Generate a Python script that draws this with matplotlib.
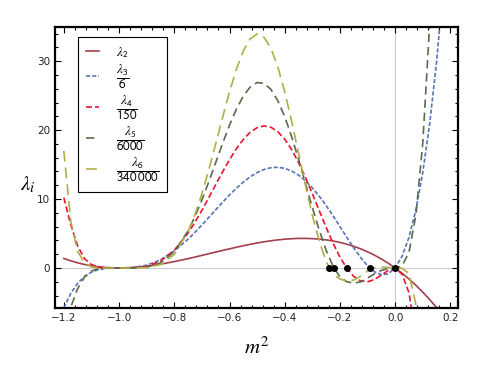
import matplotlib
matplotlib.use("Agg")
import matplotlib.pyplot as plt
from matplotlib.ticker import MultipleLocator

plt.rcParams['mathtext.fontset'] = 'stix'
plt.rcParams['font.family'] = ['DejaVu Sans']

# m^2 sample positions
m2 = [-1.2, -1.175, -1.15, -1.125, -1.1, -1.075, -1.05, -1.0, -0.95, -0.9, -0.85, -0.8, -0.75,
      -0.725, -0.7, -0.675, -0.65, -0.625, -0.6, -0.575, -0.55, -0.525, -0.5, -0.475, -0.45,
      -0.425, -0.4, -0.375, -0.35, -0.325, -0.3, -0.275, -0.25, -0.225, -0.2, -0.175, -0.15,
      -0.125, -0.1, -0.075, -0.05, -0.025, 0.0, 0.025, 0.05, 0.075, 0.1, 0.125, 0.15, 0.175, 0.2]

lam2 = [1.39, 1.04, 0.75, 0.51, 0.32, 0.18, 0.08, 0.0, 0.07, 0.26, 0.56, 0.93, 1.36,
        1.59, 1.83, 2.07, 2.31, 2.55, 2.78, 3.01, 3.23, 3.44, 3.63, 3.80, 3.95,
        4.08, 4.18, 4.25, 4.29, 4.29, 4.26, 4.19, 4.08, 3.92, 3.71, 3.45, 3.14,
        2.78, 2.35, 1.86, 1.31, 0.69, 0.0, -0.76, -1.60, -2.51, -3.51, -4.59, -5.75, -7.01, -8.35]

lam3_6 = [-5.78, -3.70, -2.23, -1.23, -0.60, -0.24, -0.07, 0.0, 0.06, 0.40, 1.18, 2.46, 4.19,
          5.18, 6.24, 7.34, 8.44, 9.54, 10.59, 11.58, 12.46, 13.23, 13.85, 14.29, 14.55,
          14.61, 14.45, 14.07, 13.47, 12.64, 11.62, 10.41, 9.05, 7.56, 6.01, 4.43, 2.90,
          1.50, 0.32, -0.55, -0.98, -0.84, 0.0, 1.71, 4.46, 8.45, 13.88, 20.97, 29.98, 41.16, 54.80]

lam4_150 = [10.2, 6.3, 3.2, 1.35, 0.5, 0.14, 0.02, 0.0, 0.02, 0.24, 0.99, 2.57, 5.07,
            6.64, 8.36, 10.20, 12.09, 13.95, 15.71, 17.30, 18.65, 19.69, 20.36, 20.61, 20.42,
            19.77, 18.68, 17.17, 15.30, 13.14, 10.78, 8.32, 5.88, 3.60, 1.58, -0.06, -1.23,
            -1.88, -2.00, -1.67, -1.03, -0.34, 0.0, -0.9, -3.6, -10.0, -20.0, -34.0, -52.0, -75.0, -100.0]

lam5_6000 = [-11.0, -5.7, -3.0, -1.3, -0.45, -0.1, -0.01, 0.0, 0.005, 0.12, 0.73, 2.35, 5.39,
             7.47, 9.87, 12.51, 15.29, 18.07, 20.71, 23.05, 24.94, 26.26, 26.90, 26.78, 25.91,
             24.26, 21.94, 19.06, 15.77, 12.27, 8.77, 5.47, 2.57, 0.24, -1.3, -2.0, -2.2,
             -2.0, -1.45, -0.85, -0.35, -0.06, 0.0, 0.3, 2.3, 7.7, 18.2, 35.5, 60.0, 95.0, 140.0]

lam6_340000 = [17.0, 6.84, 2.42, 0.72, 0.17, 0.03, 0.0, 0.0, 0.0, 0.06, 0.49, 1.96, 5.27,
               7.75, 10.76, 14.23, 17.99, 21.84, 25.55, 28.85, 31.50, 33.25, 33.95, 33.48, 31.87,
               29.17, 25.55, 21.28, 16.65, 11.99, 7.64, 3.88, 0.93, -0.9, -1.6, -1.9, -1.75,
               -1.2, -0.45, 0.0, 0.12, 0.08, 0.0, -0.05, -0.8, -5.3, -16.0, -35.0, -60.0, -95.0, -140.0]

roots = [-0.240, -0.222, -0.176, -0.092, 0.0]

labels = [r'$\lambda_\mathsf{2}$', r'$\dfrac{\lambda_\mathsf{3}}{\mathsf{6}}$',
          r'$\dfrac{\lambda_\mathsf{4}}{\mathsf{150}}$',
          r'$\dfrac{\lambda_\mathsf{5}}{\mathsf{6000}}$',
          r'$\dfrac{\lambda_\mathsf{6}}{\mathsf{340\,000}}$']
colors = ['#A43F4D', '#5874B5', '#E8142E', '#5A6B4D', '#B0AE45']
dashes = [None, (2.5, 1.2), (3.6, 1.8), (5.0, 2.9), (6.5, 3.6)]
series = [lam2, lam3_6, lam4_150, lam5_6000, lam6_340000]

fig = plt.figure(figsize=(4.98, 3.74), dpi=100)
ax = fig.add_axes([0.1104, 0.1765, 0.8096, 0.7521])

ax.axhline(0, color='#cccccc', lw=0.8, zorder=0)
ax.axvline(0, color='#cccccc', lw=0.8, zorder=0)

handles = []
for ys, c, d, lab in zip(series, colors, dashes, labels):
    if d is None:
        ln, = ax.plot(m2, ys, color=c, lw=1.2, label=lab)
    else:
        ln, = ax.plot(m2, ys, color=c, lw=1.2, dashes=d, label=lab)
    handles.append(ln)

ax.plot(roots, [0] * len(roots), 'o', color='black', ms=4, zorder=5)

ax.set_xlim(-1.232, 0.228)
ax.set_ylim(-5.8, 35)
ax.xaxis.set_major_locator(MultipleLocator(0.2))
ax.xaxis.set_minor_locator(MultipleLocator(0.04))
ax.yaxis.set_major_locator(MultipleLocator(10))
ax.yaxis.set_minor_locator(MultipleLocator(2))
ax.tick_params(which='both', direction='in', top=True, right=True, colors='black',
               labelsize=7.5, labelcolor='#222222', width=0.8)
ax.tick_params(which='major', length=4)
ax.tick_params(which='minor', length=2.2)
ax.xaxis.set_major_formatter(matplotlib.ticker.FuncFormatter(
    lambda v, p: ('\u2212' if v < -1e-9 else '') + '%.1f' % abs(v)))
ax.yaxis.set_major_formatter(matplotlib.ticker.FuncFormatter(
    lambda v, p: ('\u2212' if v < -1e-9 else '') + '%d' % abs(round(v))))
for s in ax.spines.values():
    s.set_linewidth(1.6)

ax.set_xlabel(r'$m^2$', fontsize=15)
ax.xaxis.set_label_coords(0.5, -0.1)
ax.set_ylabel(r'$\lambda_i$', fontsize=15, rotation=0, va='center', ha='center')
ax.yaxis.set_label_coords(-0.068, 0.44)

leg = ax.legend(handles=handles, loc='upper left', bbox_to_anchor=(0.057, 0.964),
                borderaxespad=0, fontsize=9.5, handlelength=1.0, handletextpad=1.3,
                labelspacing=0.25, fancybox=False, framealpha=1, borderpad=0.6)
leg.get_frame().set_edgecolor('black')
leg.get_frame().set_linewidth(0.8)

fig.savefig('out.png', dpi=100)
